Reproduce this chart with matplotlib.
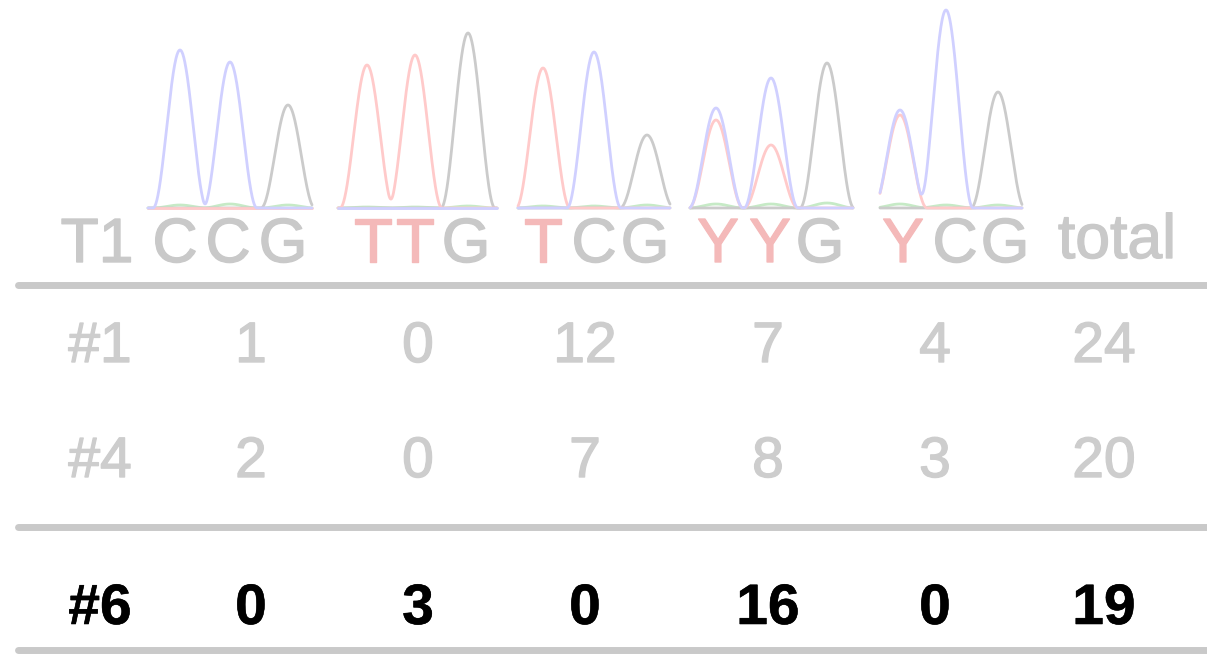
import matplotlib
matplotlib.use("Agg")
import matplotlib.pyplot as plt
import matplotlib.patheffects as pe
import numpy as np

# codon header and colouring of each base (red = T/Y, grey = C/G)
codons = ["CCG", "TTG", "TCG", "YYG", "YCG"]
row_labels = ["#1", "#4", "#6"]
counts = {
    "#1": [1, 0, 12, 7, 4],
    "#4": [2, 0, 7, 8, 3],
    "#6": [0, 3, 0, 16, 0],
}
totals = {"#1": 24, "#4": 20, "#6": 19}

# chromatogram peak heights per codon position: (blue/C, red/T, grey/G, green/A)
peak_blue = [[158, 146, 0], [0, 0, 0], [0, 156, 0], [100, 130, 0], [98, 198, 0]]
peak_red = [[0, 0, 0], [143, 153, 0], [140, 0, 0], [88, 63, 0], [93, 0, 0]]
peak_grey = [[0, 0, 103], [0, 0, 175], [0, 0, 73], [0, 0, 145], [0, 0, 116]]
peak_green = [[3, 4, 3], [1, 1, 2], [2, 2, 3], [4, 4, 5], [4, 3, 3]]

GREY = "#c9c9c9"
ROW_GREY = "#cdcdcd"
PINK = "#f4b9b9"
TRACE_BLUE = "#d0d0ff"
TRACE_RED = "#ffcaca"
TRACE_GREY = "#cbcbcb"
TRACE_GREEN = "#c6eac6"

fig = plt.figure(figsize=(12.07, 6.54), dpi=100)
ax = fig.add_axes([0, 0, 1, 1])
ax.set_xlim(0, 1207)
ax.set_ylim(654, 0)
ax.axis("off")

# layout in pixel space
group_left = [148, 338, 518, 690, 880]
group_right = [312, 497, 670, 853, 1022]
peak_x = [[180, 230, 288], [367, 415, 468], [543, 594, 647],
          [716, 771, 827], [900, 946, 998]]
letter_x = [[175, 228, 283], [373, 415, 466], [543, 594, 645],
            [718, 770, 820], [903, 955, 1005]]
baseline = 208
col_x = [251, 418, 585, 768, 935, 1104]
label_x = 100
row_base = {"#1": 362, "#4": 477, "#6": 624}
half_w = 27.0


def trace(xs, centres, heights):
    y = np.zeros_like(xs)
    for px, h in zip(centres, heights):
        d = np.clip(np.abs(xs - px) / half_w, 0, 1)
        y += h * np.cos(d * np.pi / 2) ** 2
    return y


for g in range(len(codons)):
    xs = np.linspace(group_left[g], group_right[g], 500)
    for heights, colour in ((peak_green, TRACE_GREEN), (peak_grey, TRACE_GREY),
                            (peak_red, TRACE_RED), (peak_blue, TRACE_BLUE)):
        y = trace(xs, peak_x[g], heights[g])
        ax.plot(xs, baseline - y, color=colour, lw=2.0, solid_capstyle="round")

    for base, lx in zip(codons[g], letter_x[g]):
        colour = PINK if base in "TY" else GREY
        ax.text(lx, 262, base, ha="center", va="baseline", fontsize=45,
                color=colour, family="Liberation Sans",
                path_effects=[pe.withStroke(linewidth=1.0, foreground=colour)])

for txt, tx, ty in (("T1", 97, 262), ("total", 1117, 258)):
    ax.text(tx, ty, txt, ha="center", va="baseline", fontsize=45,
            color=GREY, family="Liberation Sans",
            path_effects=[pe.withStroke(linewidth=1.0, foreground=GREY)])

for yline in (285, 527, 650):
    ax.plot([18, 1207], [yline, yline], color=GREY, lw=5, solid_capstyle="round")

for label in row_labels:
    bold = label == "#6"
    colour = "black" if bold else ROW_GREY
    weight = "bold" if bold else "normal"
    stroke = 0.4 if bold else 1.0
    values = counts[label] + [totals[label]]
    effects = [pe.withStroke(linewidth=stroke, foreground=colour)]
    ax.text(label_x, row_base[label], label, ha="center", va="baseline",
            fontsize=41, color=colour, fontweight=weight,
            family="Liberation Sans", path_effects=effects)
    for cx, v in zip(col_x, values):
        ax.text(cx, row_base[label], str(v), ha="center", va="baseline",
                fontsize=41, color=colour, fontweight=weight,
                family="Liberation Sans", path_effects=effects)

fig.savefig("out.png", dpi=100, facecolor="white")
